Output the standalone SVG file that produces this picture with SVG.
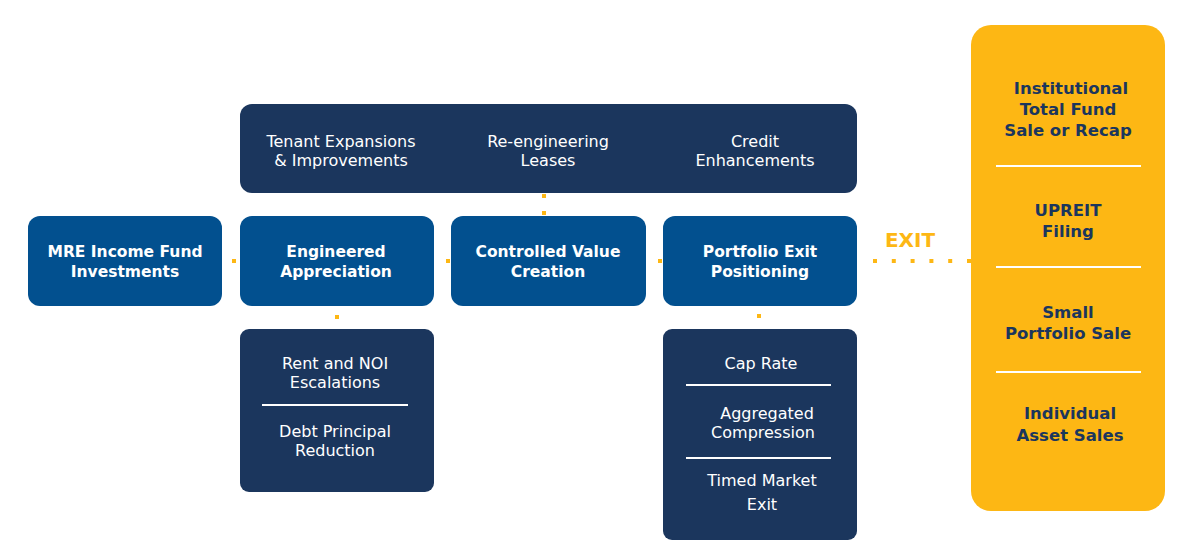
<svg xmlns="http://www.w3.org/2000/svg" width="1200" height="556" viewBox="0 0 1200 556">
<style>
.blue{fill:#02508F}
.navy{fill:#1B365D}
.gold{fill:#FDB714}
.bt{font-family:"DejaVu Sans","Liberation Sans",sans-serif;font-weight:700;font-size:15.5px;fill:#fff;text-anchor:middle}
.rt{font-family:"DejaVu Sans","Liberation Sans",sans-serif;font-weight:400;font-size:16px;fill:#fff;text-anchor:middle}
.yt{font-family:"DejaVu Sans","Liberation Sans",sans-serif;font-weight:700;font-size:16.5px;fill:#1B365D;text-anchor:middle}
.sep{stroke:#fff;stroke-width:2}
.dot{fill:#FDB714}
</style>
<rect width="1200" height="556" fill="#fff"/>
<g id="connectors">
<rect class="dot" x="232" y="259" width="4" height="4"/>
<rect class="dot" x="446" y="259" width="4" height="4"/>
<rect class="dot" x="658" y="259" width="4" height="4"/>
<rect class="dot" x="542" y="194" width="4" height="4"/>
<rect class="dot" x="542" y="211" width="4" height="4"/>
<rect class="dot" x="335" y="315" width="4" height="4"/>
<rect class="dot" x="757" y="314" width="4" height="4"/>
<line x1="873" y1="261" x2="972" y2="261" stroke="#FDB714" stroke-width="4" stroke-dasharray="4 14.8"/>
<text x="910" y="247" font-family="'DejaVu Sans','Liberation Sans',sans-serif" font-weight="700" font-size="20" fill="#FDB714" text-anchor="middle">EXIT</text>
</g>
<g id="top">
<rect class="navy" x="240" y="104" width="617" height="89" rx="12"/>
<text class="rt" x="341" y="147">Tenant Expansions</text>
<text class="rt" x="341" y="166">&amp; Improvements</text>
<text class="rt" x="548" y="147">Re-engineering</text>
<text class="rt" x="548" y="166">Leases</text>
<text class="rt" x="755" y="147">Credit</text>
<text class="rt" x="755" y="166">Enhancements</text>
</g>
<g id="mre">
<rect class="blue" x="28" y="216" width="194" height="90" rx="12"/>
<text class="bt" x="125" y="257">MRE Income Fund</text>
<text class="bt" x="125" y="277">Investments</text>
</g>
<g id="engineered">
<rect class="blue" x="240" y="216" width="194" height="90" rx="12"/>
<text class="bt" x="336" y="257">Engineered</text>
<text class="bt" x="336" y="277">Appreciation</text>
</g>
<g id="controlled">
<rect class="blue" x="451" y="216" width="195" height="90" rx="12"/>
<text class="bt" x="548" y="257">Controlled Value</text>
<text class="bt" x="548" y="277">Creation</text>
</g>
<g id="portfolio">
<rect class="blue" x="663" y="216" width="194" height="90" rx="12"/>
<text class="bt" x="760" y="257">Portfolio Exit</text>
<text class="bt" x="760" y="277">Positioning</text>
</g>
<g id="rent">
<rect class="navy" x="240" y="329" width="194" height="163" rx="9"/>
<text class="rt" x="335" y="369">Rent and NOI</text>
<text class="rt" x="335" y="388">Escalations</text>
<line class="sep" x1="262" y1="405" x2="408" y2="405"/>
<text class="rt" x="335" y="437">Debt Principal</text>
<text class="rt" x="335" y="456">Reduction</text>
</g>
<g id="caprate">
<rect class="navy" x="663" y="329" width="194" height="211" rx="9"/>
<text class="rt" x="761" y="369">Cap Rate</text>
<line class="sep" x1="686" y1="385" x2="831" y2="385"/>
<text class="rt" x="767" y="419">Aggregated</text>
<text class="rt" x="763" y="438">Compression</text>
<line class="sep" x1="686" y1="458" x2="831" y2="458"/>
<text class="rt" x="762" y="486">Timed Market</text>
<text class="rt" x="762" y="510">Exit</text>
</g>
<g id="exit-options">
<rect class="gold" x="971" y="25" width="194" height="486" rx="20"/>
<text class="yt" x="1071" y="94">Institutional</text>
<text class="yt" x="1068" y="115">Total Fund</text>
<text class="yt" x="1068" y="136">Sale or Recap</text>
<line class="sep" x1="996" y1="166" x2="1141" y2="166" stroke-width="3"/>
<text class="yt" x="1068" y="216">UPREIT</text>
<text class="yt" x="1068" y="237">Filing</text>
<line class="sep" x1="996" y1="267" x2="1141" y2="267" stroke-width="3"/>
<text class="yt" x="1068" y="318">Small</text>
<text class="yt" x="1068" y="339">Portfolio Sale</text>
<line class="sep" x1="996" y1="372" x2="1141" y2="372" stroke-width="3"/>
<text class="yt" x="1070" y="419">Individual</text>
<text class="yt" x="1070" y="441">Asset Sales</text>
</g>
</svg>
